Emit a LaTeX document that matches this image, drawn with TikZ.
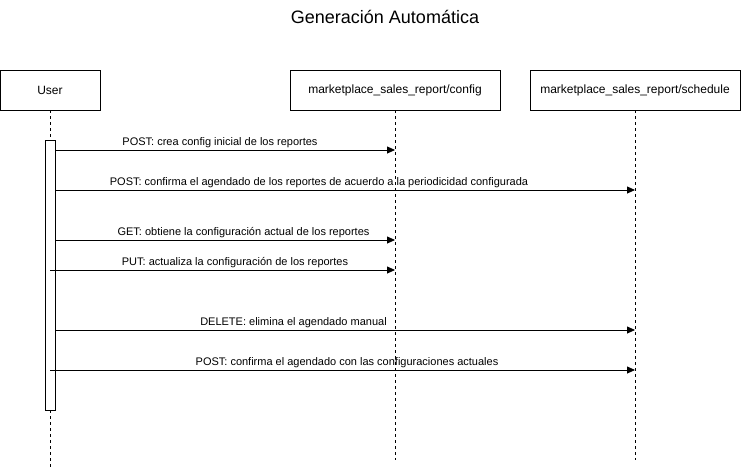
\documentclass[tikz,border=0pt]{standalone}
\usepackage{fontspec}
\setmainfont{Liberation Sans}
\usetikzlibrary{arrows.meta}
\begin{document}
\begin{tikzpicture}[x=1pt,y=-1pt,
  box/.style={draw,line width=0.8pt,minimum height=40pt,inner sep=0pt,font=\fontsize{12}{14}\selectfont},
  life/.style={line width=0.8pt,dash pattern=on 3pt off 3pt},
  actbox/.style={draw,fill=white,line width=0.8pt,minimum width=10pt,inner sep=0pt},
  msg/.style={line width=0.8pt,-{Triangle[length=8pt,width=7pt]}},
  lbl/.style={anchor=base,inner sep=0pt,font=\fontsize{11}{13}\selectfont}]
\useasboundingbox (0,0) rectangle (741,471);
\node[font=\fontsize{18}{20}\selectfont] (title) at (385,17) {Generación Automática};
\node[box,minimum width=100pt] (user) at (50,90) {User};
\node[box,minimum width=210pt] (cfg) at (395,90) {marketplace\_sales\_report/config};
\node[box,minimum width=210pt] (sch) at (635,90) {marketplace\_sales\_report/schedule};
\coordinate (userend) at (50,467);
\coordinate (cfgend) at (395,460);
\coordinate (schend) at (635,460);
\draw[life] (user.south) -- (userend);
\draw[life] (cfg.south) -- (cfgend);
\draw[life] (sch.south) -- (schend);
\node[actbox,minimum height=270pt] (act) at (50,275) {};
% messages
\coordinate (m1s) at (55,150); \coordinate (m1e) at (395,150);
\draw[msg] (m1s) -- (m1e);
\node[lbl] (l1) at (220,145) {POST: crea config inicial de los reportes};
\coordinate (m2s) at (55,190); \coordinate (m2e) at (635,190);
\draw[msg] (m2s) -- (m2e);
\node[lbl] (l2) at (319,185) {POST: confirma el agendado de los reportes de acuerdo a la periodicidad configurada};
\coordinate (m3s) at (55,240); \coordinate (m3e) at (395,240);
\draw[msg] (m3s) -- (m3e);
\node[lbl] (l3) at (243.5,235) {GET: obtiene la configuración actual de los reportes};
\coordinate (m4s) at (50,270); \coordinate (m4e) at (395,270);
\draw[msg] (m4s) -- (m4e);
\node[lbl] (l4) at (235,265) {PUT: actualiza la configuración de los reportes};
\coordinate (m5s) at (55,330); \coordinate (m5e) at (635,330);
\draw[msg] (m5s) -- (m5e);
\node[lbl] (l5) at (293.5,325) {DELETE: elimina el agendado manual};
\coordinate (m6s) at (50,370); \coordinate (m6e) at (635,370);
\draw[msg] (m6s) -- (m6e);
\node[lbl] (l6) at (347,365) {POST: confirma el agendado con las configuraciones actuales};
\end{tikzpicture}
\end{document}
